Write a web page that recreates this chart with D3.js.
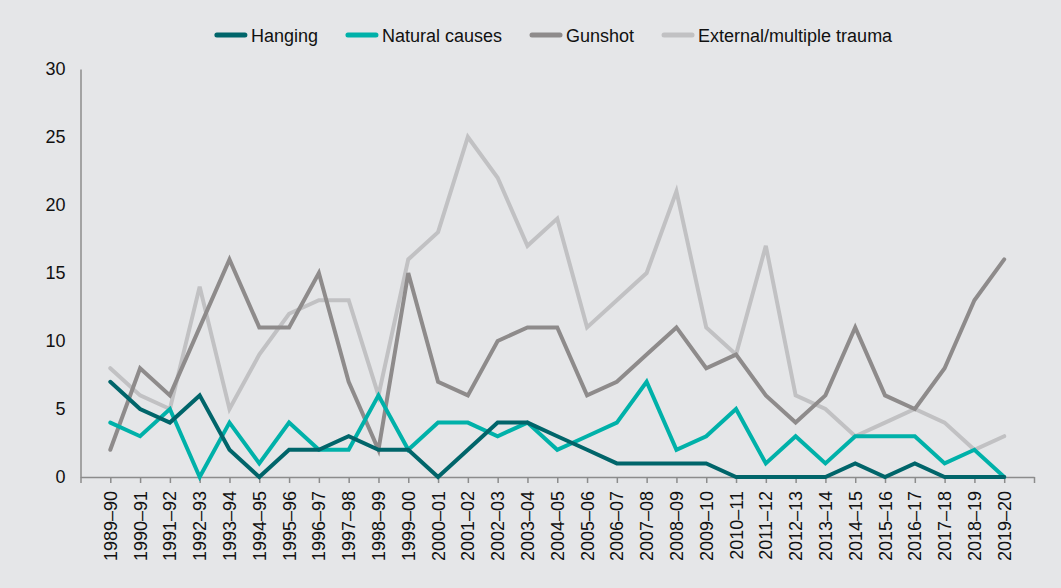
<!DOCTYPE html>
<html>
<head>
<meta charset="utf-8">
<script src="https://cdn.jsdelivr.net/npm/d3@7"></script>
<style>
  html, body { margin: 0; padding: 0; background: #e5e6e8; }
  svg { display: block; }
  text { font-family: "Liberation Sans", Arial, sans-serif; fill: #111; }
</style>
</head>
<body>
<svg id="chart" width="1061" height="588"></svg>
<script>
const categories = ["1989–90","1990–91","1991–92","1992–93","1993–94","1994–95","1995–96","1996–97","1997–98","1998–99","1999–00","2000–01","2001–02","2002–03","2003–04","2004–05","2005–06","2006–07","2007–08","2008–09","2009–10","2010–11","2011–12","2012–13","2013–14","2014–15","2015–16","2016–17","2017–18","2018–19","2019–20"];
const hanging  = [7,5,4,6,2,0,2,2,3,2,2,0,2,4,4,3,2,1,1,1,1,0,0,0,0,1,0,1,0,0,0];
const natural  = [4,3,5,0,4,1,4,2,2,6,2,4,4,3,4,2,3,4,7,2,3,5,1,3,1,3,3,3,1,2,0];
const gunshot  = [2,8,6,11,16,11,11,15,7,2,15,7,6,10,11,11,6,7,9,11,8,9,6,4,6,11,6,5,8,13,16];
const external = [8,6,5,14,5,9,12,13,13,6,16,18,25,22,17,19,11,13,15,21,11,9,17,6,5,3,4,5,4,2,3];
const seriesNames = ["Hanging","Natural causes","Gunshot","External/multiple trauma"];
const yTicks = [0,5,10,15,20,25,30];

const colors = ["#00656a","#00b1a9","#8e8b8b","#c1c1c3"];
const seriesData = [hanging, natural, gunshot, external];

const svg = d3.select("#chart");
const x = d3.scaleLinear().domain([-1, categories.length]).range([80.5, 1034]);
const y = d3.scaleLinear().domain([0, 30]).range([477, 69]);

// axes
const xAxis = d3.axisBottom(x)
  .tickValues(d3.range(-1, categories.length + 1))
  .tickFormat("")
  .tickSizeOuter(0)
  .tickSizeInner(6);
const gx = svg.append("g").attr("transform", "translate(0,477)").call(xAxis);
gx.select(".domain").attr("stroke", "#8c8c8c").attr("stroke-width", 1.5);
gx.selectAll(".tick line").attr("stroke", "#8c8c8c").attr("stroke-width", 1.5);

const yAxis = d3.axisLeft(y).tickValues(yTicks).tickSize(0).tickPadding(15).tickSizeOuter(0);
const gy = svg.append("g").attr("transform", "translate(80.5,0)").call(yAxis);
gy.select(".domain").attr("stroke", "#8c8c8c").attr("stroke-width", 1.5);
gy.selectAll("text").style("font-size", "18px").style("font-family", "'Liberation Sans', Arial, sans-serif").attr("fill", "#111");

// category labels
svg.append("g").selectAll("text").data(categories).join("text")
  .attr("transform", (d, i) => `translate(${x(i) + 6.5},491) rotate(-90)`)
  .attr("text-anchor", "end")
  .style("font-size", "18px")
  .text(d => d);

// lines
const line = d3.line().x((d, i) => x(i)).y(d => y(d));
const order = [3, 2, 1, 0];
svg.append("g").selectAll("path").data(order).join("path")
  .attr("d", k => line(seriesData[k]))
  .attr("fill", "none")
  .attr("stroke", k => colors[k])
  .attr("stroke-width", 4)
  .attr("stroke-linejoin", "miter")
  .attr("stroke-linecap", "round");

// legend
const legend = svg.append("g");
const items = legend.selectAll("g").data(seriesNames).join("g");
items.append("line")
  .attr("x1", 0).attr("x2", 28).attr("y1", 0).attr("y2", 0)
  .attr("stroke", (d, i) => colors[i]).attr("stroke-width", 5).attr("stroke-linecap", "round");
items.append("text").attr("x", 34).attr("y", 6.5).style("font-size", "18px").text(d => d);
const widths = [];
items.each(function() { widths.push(this.getBBox().width); });
const gap = 30;
const total = d3.sum(widths) + gap * (widths.length - 1);
let start = 555 - total / 2;
items.attr("transform", (d, i) => {
  const t = `translate(${start},35)`;
  start += widths[i] + gap;
  return t;
});
</script>
</body>
</html>
